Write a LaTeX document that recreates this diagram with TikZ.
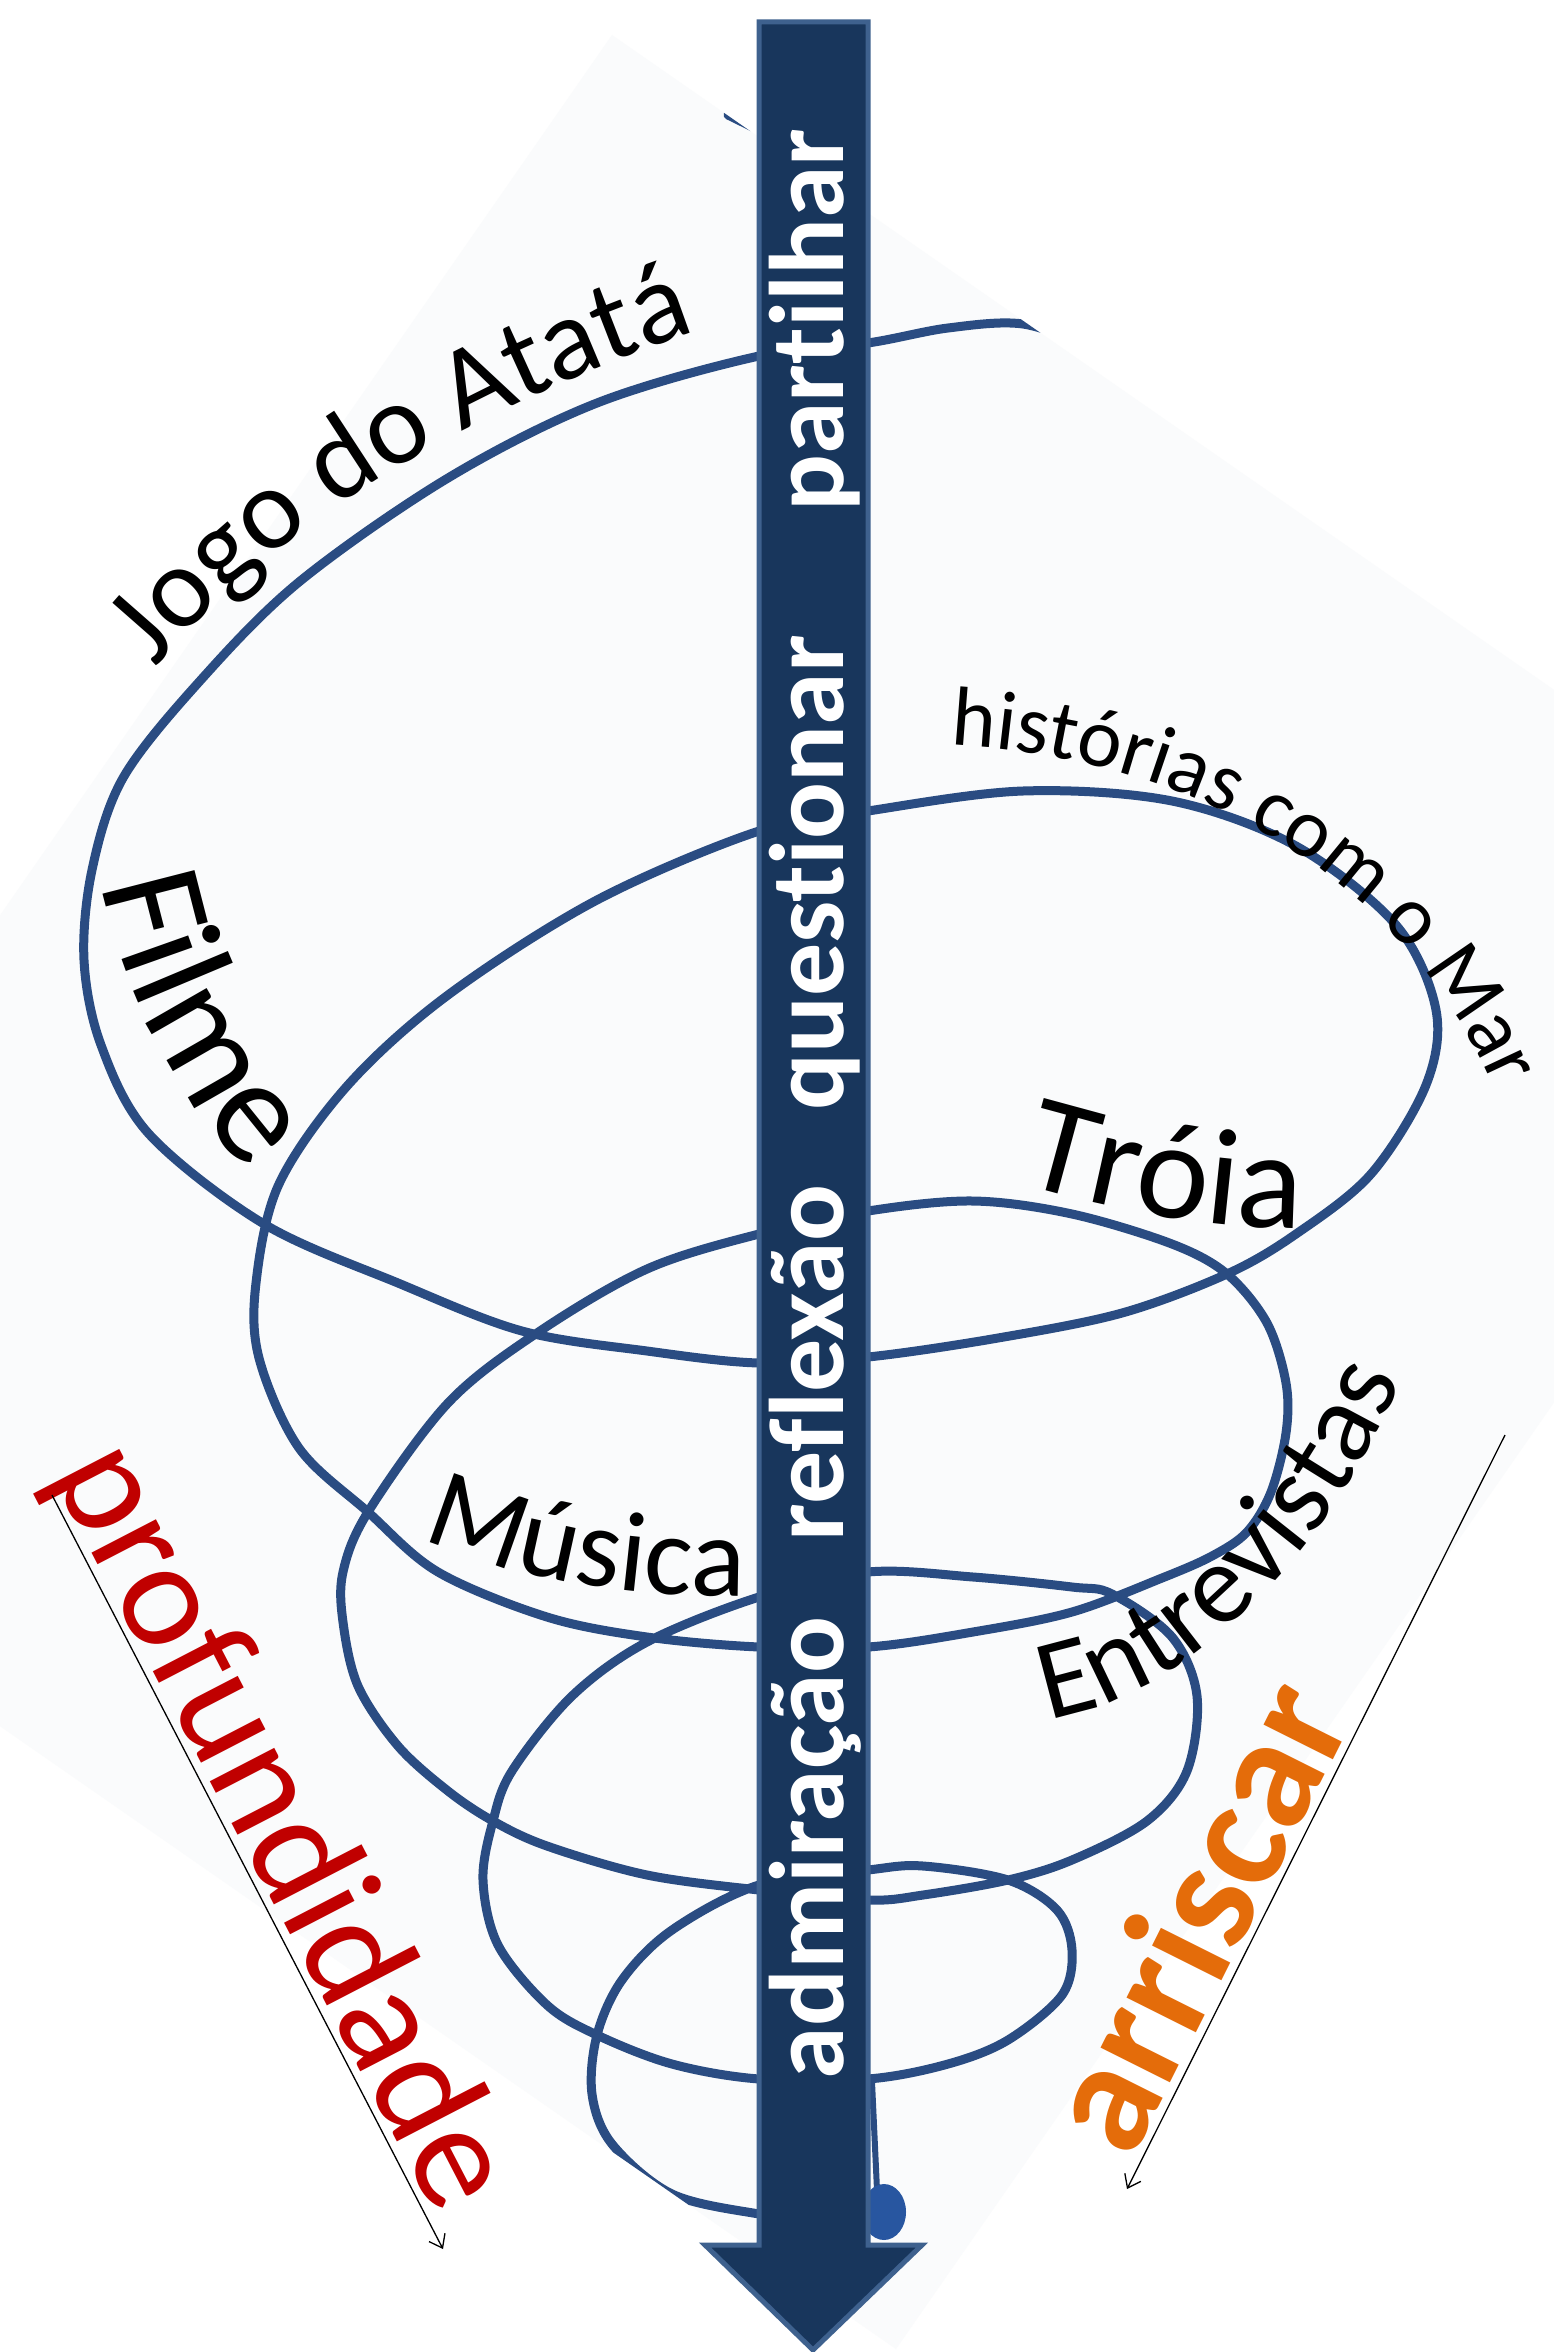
\documentclass[tikz,border=0pt]{standalone}
\usepackage{fontspec}
\newfontfamily\carl[RawFeature=-liga]{Carlito}
\usetikzlibrary{decorations.text,arrows.meta}
\definecolor{navy}{RGB}{24,54,92}
\definecolor{navyedge}{RGB}{62,97,142}
\definecolor{spiralblue}{RGB}{42,76,130}
\definecolor{dotblue}{RGB}{40,86,160}
\definecolor{bgtint}{RGB}{250,251,252}
\definecolor{deepred}{RGB}{192,0,0}
\definecolor{riskorange}{RGB}{228,108,10}
\newcommand\fJogo{\carl\fontsize{116}{116}\selectfont}
\newcommand\fFilme{\carl\fontsize{148}{148}\selectfont}
\newcommand\fHist{\carl\fontsize{84}{84}\selectfont}
\newcommand\fTroia{\carl\fontsize{138}{138}\selectfont}
\newcommand\fMusica{\carl\fontsize{114}{114}\selectfont}
\newcommand\fEntre{\carl\fontsize{114}{114}\selectfont}
\begin{document}
\begin{tikzpicture}[x=1pt,y=1pt,
  spiral/.style={draw=spiralblue, line width=9pt, line cap=round, line join=round},
  shaftword/.style={text=white, font=\carl\bfseries\fontsize{106}{106}\selectfont, rotate=90, anchor=base, inner sep=0pt},
  guide/.style={draw=black, line width=1.3pt, -{Straight Barb[length=12pt,width=18pt,line width=1.3pt]}},
  curvedlabel/.style={decorate, decoration={text along path, text align=left}}]

\useasboundingbox (0,0) rectangle (1554,-2352);
\fill[white] (0,0) rectangle (1554,-2352);

% faint rotated backdrop of the spiral picture
\begin{scope}
  \clip (0,0) rectangle (1554,-2352);
  \fill[bgtint] (612,-35) -- (1888,-922) -- (896,-2349) -- (-380,-1462) -- cycle;
\end{scope}

% spiral
\begin{scope}
  \clip (612,-35) -- (1888,-922) -- (896,-2349) -- (-380,-1462) -- cycle;
  \draw[spiral] plot[smooth, tension=0.55] coordinates {
    (1095,-348) (1023,-324) (948,-328) (868,-343) (759,-356) (597,-403) (448,-478)
    (299,-582) (199,-682) (123,-778) (92,-870) (84,-960) (101,-1045) (149,-1134)
    (264,-1224) (398,-1283) (522,-1331) (647,-1351) (759,-1363) (868,-1357)
    (998,-1338) (1122,-1313) (1227,-1274) (1296,-1234) (1371,-1174) (1426,-1085)
    (1436,-1010) (1396,-925) (1296,-846) (1172,-801) (1023,-791) (868,-811)
    (759,-831) (597,-900) (448,-995) (348,-1085) (279,-1184) (256,-1283)
    (259,-1358) (299,-1448) (368,-1512) (438,-1572) (547,-1617) (647,-1637)
    (759,-1647) (868,-1647) (973,-1632) (1072,-1612) (1162,-1578) (1212,-1556)
    (1247,-1532) (1271,-1492) (1286,-1433) (1286,-1383) (1267,-1323) (1227,-1274)
    (1172,-1244) (1072,-1214) (973,-1201) (868,-1211) (759,-1234) (647,-1269)
    (537,-1333) (448,-1403) (368,-1512) (343,-1572) (343,-1622) (358,-1686)
    (398,-1746) (448,-1791) (493,-1821) (547,-1846) (647,-1875) (759,-1890)
    (868,-1900) (923,-1895) (1008,-1880) (1072,-1860) (1147,-1821) (1187,-1771)
    (1197,-1696) (1172,-1637) (1112,-1594) (1072,-1587) (973,-1577) (868,-1572)
    (759,-1597) (647,-1642) (572,-1696) (512,-1771) (493,-1821) (483,-1880)
    (498,-1945) (547,-2005) (597,-2035) (672,-2064) (759,-2079) (868,-2079)
    (948,-2064) (1008,-2040) (1062,-1995) (1072,-1950) (1057,-1910) (1008,-1880)
    (923,-1866) (868,-1870) (759,-1885) (672,-1930) (622,-1980) (597,-2035)
    (592,-2094) (612,-2144) (672,-2194) (759,-2214) (830,-2222)};
  \draw[spiral] (728,-115) -- (775,-138);
  \draw[spiral, line width=6pt] (872,-2082) -- (877,-2190);
  \fill[dotblue] (884,-2212) ellipse [x radius=22, y radius=28];
\end{scope}

% big arrow
\path[draw=navyedge, fill=navy, line width=5pt, line join=miter]
  (759,-22) -- (868,-22) -- (868,-2245) -- (922,-2245) -- (813,-2350)
  -- (705,-2245) -- (759,-2245) -- cycle;

\node (partilhar)  [shaftword] at (843,-320)  {partilhar};
\node (questionar) [shaftword] at (843,-873)  {questionar};
\node (reflexao)   [shaftword] at (843,-1363) {reflexão};
\node (admiracao)  [shaftword] at (843,-1848) {admiração};

% curved black labels
\path[curvedlabel, decoration={text={|\fJogo|Jogo do Atatá}}]
  (156,-668) .. controls (250,-555) and (420,-425) .. (700,-330) -- (820,-300);
\path[curvedlabel, decoration={text={|\fFilme|Filme}}]
  (102,-884) .. controls (120,-980) and (170,-1090) .. (255,-1180) -- (340,-1255);
\path[curvedlabel, decoration={text={|\fHist|histórias com o Mar}}]
  (950,-745) .. controls (1200,-758) and (1412,-880) .. (1503,-1110) -- (1535,-1200);
\path[curvedlabel, decoration={text={|\fTroia|Tróia}}]
  (1020,-1183) .. controls (1110,-1210) and (1220,-1232) .. (1310,-1228) -- (1400,-1222);
\path[curvedlabel, decoration={text={|\fMusica|Música}}]
  (422,-1537) .. controls (520,-1582) and (640,-1598) .. (755,-1596) -- (820,-1596);
\path[curvedlabel, decoration={text={|\fEntre|Entrevistas}}]
  (1048,-1719) .. controls (1180,-1700) and (1330,-1560) .. (1405,-1370) -- (1440,-1280);

% side labels and guide arrows
\node (profundidade) [font=\carl\fontsize{152}{152}\selectfont, text=deepred,
  rotate=-62.6, anchor=base, inner sep=0pt] at (244,-1846) {profundidade};
\node (arriscar) [font=\carl\bfseries\fontsize{160}{160}\selectfont, text=riskorange,
  rotate=63.4, anchor=base, inner sep=0pt] at (1243,-1939) {arriscar};

\coordinate (pstart) at (52,-1495);
\coordinate (pend) at (443,-2249);
\coordinate (astart) at (1505,-1435);
\coordinate (aend) at (1127,-2189);
\draw[guide] (pstart) -- (pend);
\draw[guide] (astart) -- (aend);
\end{tikzpicture}
\end{document}
